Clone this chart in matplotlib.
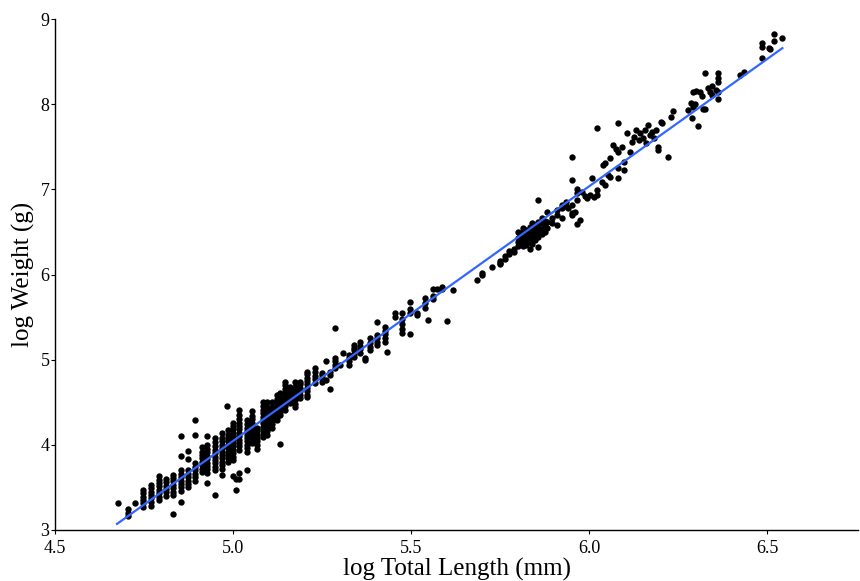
import matplotlib
matplotlib.use("Agg")
import matplotlib.pyplot as plt

plt.rcParams['font.family'] = ['Liberation Serif', 'DejaVu Serif']

# small fish: measured lengths come in columns (log mm), weights listed per column
small_len = [4.677, 4.705, 4.725, 4.747, 4.770, 4.792, 4.812, 4.831, 4.854, 4.874,
             4.893, 4.913, 4.927, 4.949, 4.969, 4.983, 4.986, 5.000, 5.008, 5.017,
             5.039, 5.053, 5.067, 5.084, 5.096, 5.110, 5.124, 5.132, 5.146, 5.160,
             5.174, 5.188, 5.208, 5.230, 5.250, 5.261, 5.272, 5.287]
small_wt = [
    [3.32],
    [3.16, 3.20, 3.24],
    [3.31],
    [3.27, 3.31, 3.35, 3.39, 3.43, 3.47],
    [3.28, 3.33, 3.37, 3.41, 3.45, 3.49, 3.53],
    [3.35, 3.39, 3.43, 3.47, 3.51, 3.55, 3.59, 3.63],
    [3.40, 3.44, 3.48, 3.52, 3.56, 3.60],
    [3.19, 3.41, 3.45, 3.49, 3.53, 3.57, 3.61, 3.65],
    [3.33, 3.46, 3.50, 3.54, 3.58, 3.62, 3.66, 3.70, 3.87, 4.10],
    [3.50, 3.54, 3.58, 3.62, 3.66, 3.70, 3.83, 3.93],
    [3.58, 3.62, 3.66, 3.70, 3.74, 3.78, 4.12, 4.29],
    [3.68, 3.72, 3.76, 3.80, 3.84, 3.88, 3.92, 3.97],
    [3.55, 3.67, 3.71, 3.75, 3.79, 3.83, 3.87, 3.91, 3.95, 4.00, 4.10],
    [3.41, 3.70, 3.74, 3.78, 3.82, 3.86, 3.90, 3.94, 3.98, 4.03, 4.08],
    [3.65, 3.72, 3.76, 3.80, 3.84, 3.88, 3.92, 3.96, 4.00, 4.04, 4.08, 4.14],
    [4.45],
    [3.80, 3.84, 3.88, 3.92, 3.96, 4.00, 4.04, 4.08, 4.12, 4.17],
    [3.63, 3.82, 3.86, 3.90, 3.94, 3.98, 4.02, 4.06, 4.10, 4.14, 4.18, 4.22, 4.26],
    [3.47, 3.60],
    [3.60, 3.67, 3.94, 3.98, 4.02, 4.06, 4.10, 4.14, 4.18, 4.22, 4.26, 4.30, 4.35, 4.41],
    [3.70, 3.92, 3.96, 4.00, 4.04, 4.08, 4.12, 4.16, 4.20, 4.24, 4.29],
    [4.02, 4.06, 4.10, 4.14, 4.18, 4.22, 4.26, 4.30, 4.34, 4.40],
    [3.95, 4.00, 4.04, 4.08, 4.12, 4.16, 4.20],
    [4.09, 4.13, 4.17, 4.21, 4.25, 4.29, 4.33, 4.37, 4.41, 4.45, 4.50],
    [4.12, 4.16, 4.20, 4.24, 4.28, 4.32, 4.36, 4.40, 4.44, 4.50],
    [4.20, 4.24, 4.28, 4.32, 4.36, 4.40, 4.44, 4.50],
    [4.29, 4.33, 4.37, 4.41, 4.45, 4.50, 4.54, 4.58],
    [4.01, 4.35, 4.39, 4.43, 4.47, 4.51, 4.55, 4.61],
    [4.41, 4.45, 4.49, 4.53, 4.57, 4.61, 4.65, 4.70, 4.74],
    [4.49, 4.53, 4.57, 4.61, 4.65, 4.68],
    [4.44, 4.48, 4.52, 4.56, 4.60, 4.64, 4.68, 4.74],
    [4.55, 4.59, 4.63, 4.67, 4.71, 4.74],
    [4.56, 4.59, 4.63, 4.67, 4.71, 4.75, 4.79, 4.83, 4.86],
    [4.73, 4.77, 4.81, 4.85, 4.90],
    [4.74, 4.78, 4.82, 4.84],
    [4.76, 4.98],
    [4.66, 4.82, 4.86],
    [4.90, 4.94, 4.98, 5.02, 5.37],
]

# medium fish
mid_len = [5.301, 5.309, 5.326, 5.326, 5.326, 5.326, 5.340, 5.340, 5.340, 5.340,
           5.340, 5.357, 5.357, 5.357, 5.357, 5.371, 5.371, 5.385, 5.385, 5.385,
           5.385, 5.404, 5.404, 5.404, 5.404, 5.404, 5.427, 5.427, 5.427, 5.427,
           5.427, 5.433, 5.455, 5.455, 5.475, 5.475, 5.475, 5.475, 5.475, 5.497,
           5.497, 5.497, 5.497, 5.517, 5.517, 5.539, 5.539, 5.539, 5.548, 5.560,
           5.560, 5.560, 5.573, 5.587, 5.587, 5.601, 5.618, 5.685, 5.700, 5.700,
           5.728, 5.750, 5.750, 5.750, 5.762, 5.762, 5.775, 5.775, 5.789, 5.789,
           5.800, 5.800, 5.800, 5.800]
mid_wt = [4.94, 5.08, 4.94, 4.98, 5.02, 5.05, 5.03, 5.07, 5.11, 5.14,
          5.17, 5.08, 5.12, 5.16, 5.21, 5.00, 5.02, 5.11, 5.15, 5.19,
          5.25, 5.17, 5.21, 5.25, 5.29, 5.44, 5.21, 5.25, 5.30, 5.34,
          5.38, 5.09, 5.50, 5.55, 5.31, 5.36, 5.42, 5.48, 5.55, 5.30,
          5.55, 5.60, 5.68, 5.52, 5.55, 5.61, 5.66, 5.72, 5.47, 5.71,
          5.75, 5.83, 5.83, 5.83, 5.85, 5.45, 5.82, 5.94, 5.99, 6.02,
          6.09, 6.12, 6.14, 6.16, 6.18, 6.22, 6.24, 6.28, 6.26, 6.30,
          6.34, 6.38, 6.43, 6.50]

# dense cluster around 5.8 - 6.0
clus_len = [5.806, 5.806, 5.806, 5.815, 5.815, 5.815, 5.815, 5.815, 5.823, 5.823,
            5.823, 5.823, 5.832, 5.832, 5.832, 5.832, 5.832, 5.840, 5.840, 5.840,
            5.840, 5.840, 5.848, 5.848, 5.848, 5.848, 5.857, 5.857, 5.857, 5.857,
            5.857, 5.857, 5.866, 5.866, 5.866, 5.866, 5.875, 5.875, 5.875, 5.882,
            5.882, 5.882, 5.896, 5.896, 5.910, 5.910, 5.910, 5.924, 5.924, 5.924,
            5.935, 5.935, 5.952, 5.952, 5.952, 5.952, 5.966, 5.966, 5.966, 5.966]
clus_wt = [6.36, 6.42, 6.47, 6.33, 6.39, 6.44, 6.50, 6.55, 6.35, 6.40,
           6.46, 6.52, 6.30, 6.38, 6.43, 6.49, 6.56, 6.36, 6.41, 6.47,
           6.53, 6.60, 6.40, 6.46, 6.52, 6.58, 6.32, 6.44, 6.50, 6.56,
           6.62, 6.87, 6.48, 6.54, 6.60, 6.66, 6.50, 6.57, 6.63, 6.55,
           6.62, 6.73, 6.60, 6.66, 6.58, 6.70, 6.76, 6.66, 6.78, 6.82,
           6.80, 6.85, 6.72, 6.82, 7.11, 7.38, 6.59, 6.88, 6.96, 7.00]

# large fish
big_len = [5.940, 5.950, 5.960, 5.975, 5.980, 5.988, 5.994, 6.003, 6.012, 6.022,
           6.008, 6.022, 6.022, 6.036, 6.045, 6.039, 6.045, 6.053, 6.059, 6.059,
           6.067, 6.075, 6.080, 6.080, 6.081, 6.081, 6.093, 6.096, 6.096, 6.107,
           6.115, 6.121, 6.124, 6.130, 6.138, 6.143, 6.150, 6.155, 6.160, 6.166,
           6.170, 6.176, 6.182, 6.188, 6.194, 6.194, 6.200, 6.205, 6.222, 6.228,
           6.236, 6.278, 6.285, 6.292, 6.289, 6.298, 6.306, 6.290, 6.300, 6.310,
           6.317, 6.320, 6.326, 6.326, 6.332, 6.338, 6.345, 6.345, 6.362, 6.362,
           6.362, 6.356, 6.362, 6.362, 6.424, 6.433, 6.486, 6.486, 6.486, 6.503,
           6.508, 6.517, 6.517, 6.542]
big_wt = [6.78, 6.70, 6.74, 6.64, 6.97, 6.92, 6.90, 6.93, 6.91, 6.93,
          7.13, 6.99, 7.72, 7.09, 7.05, 7.29, 7.31, 7.17, 7.37, 7.14,
          7.52, 7.48, 7.25, 7.13, 7.78, 7.44, 7.50, 7.32, 7.23, 7.66,
          7.44, 7.56, 7.62, 7.70, 7.58, 7.66, 7.60, 7.70, 7.55, 7.76,
          7.64, 7.68, 7.60, 7.70, 7.50, 7.46, 7.79, 7.78, 7.38, 7.85,
          7.92, 7.93, 8.01, 7.97, 7.84, 8.00, 7.74, 8.15, 8.16, 8.15,
          8.10, 7.95, 7.95, 8.37, 8.19, 8.14, 8.22, 8.11, 8.37, 8.31,
          8.26, 8.17, 8.14, 8.06, 8.34, 8.38, 8.72, 8.67, 8.54, 8.66,
          8.65, 8.82, 8.74, 8.78]

# fitted regression line ends
fit_len = [4.674, 6.542]
fit_wt = [3.07, 8.66]

xs = [x for x, col in zip(small_len, small_wt) for _ in col] + mid_len + clus_len + big_len
ys = [y for col in small_wt for y in col] + mid_wt + clus_wt + big_wt

fig = plt.figure(figsize=(8.6, 5.81), dpi=100)
ax = fig.add_axes([0.064, 0.088, 0.934, 0.879])

ax.scatter(xs, ys, s=21, color='black', linewidths=0, zorder=2)
ax.plot(fit_len, fit_wt, color='#3366FF', lw=1.6, zorder=3)

ax.set_xlim(4.5, 6.755)
ax.set_ylim(3, 9)
ax.set_xticks([4.5, 5.0, 5.5, 6.0, 6.5])
ax.set_xticklabels(['4.5', '5.0', '5.5', '6.0', '6.5'])
ax.set_yticks([3, 4, 5, 6, 7, 8, 9])

for s in ['top', 'right']:
    ax.spines[s].set_visible(False)
for s in ['left', 'bottom']:
    ax.spines[s].set_linewidth(1.0)

ax.tick_params(direction='out', length=3, width=0.8, labelsize=13)
ax.tick_params(axis='y', pad=1)
ax.tick_params(axis='x', pad=4)
ax.set_xlabel('log Total Length (mm)', fontsize=18, labelpad=1)
ax.set_ylabel('log Weight (g)', fontsize=18, labelpad=4)

fig.savefig('out.png', dpi=100)
